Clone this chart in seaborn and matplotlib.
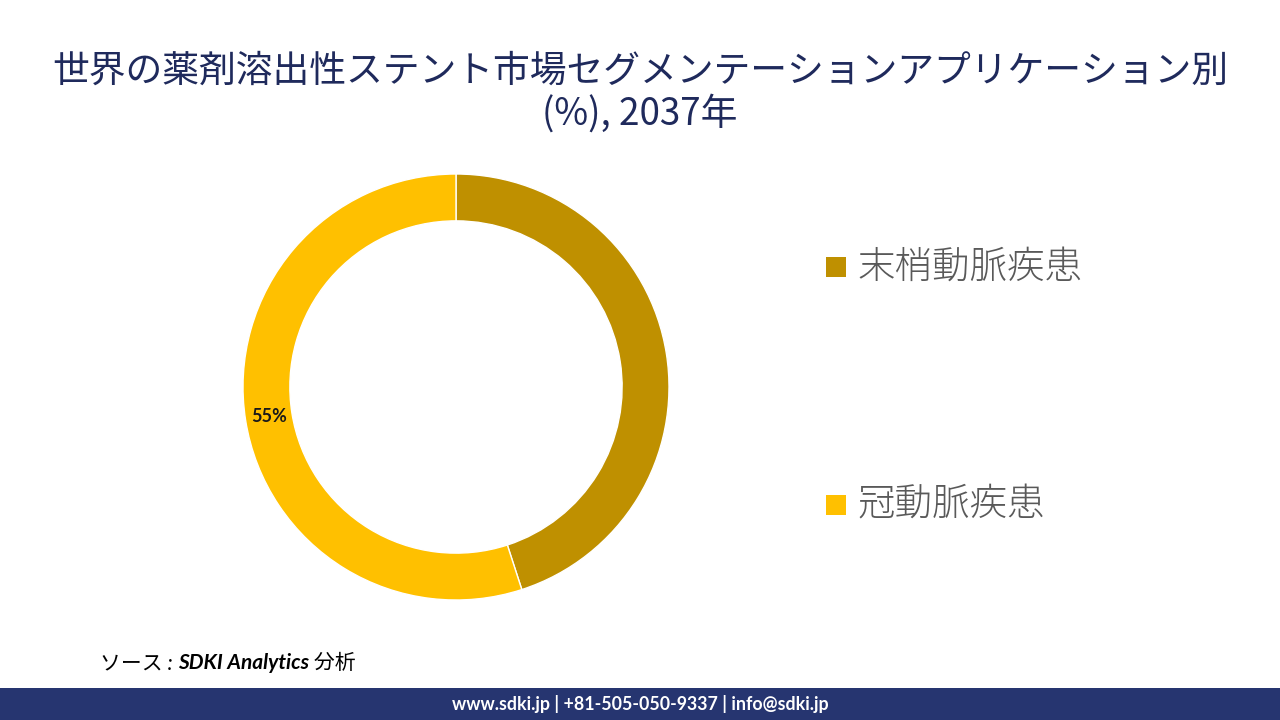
import matplotlib
matplotlib.use("Agg")
import matplotlib.pyplot as plt
import seaborn as sns
import numpy as np
from matplotlib.patches import Rectangle

sns.set_theme(style="white")
plt.rcParams['font.family'] = ['Noto Sans CJK JP', 'DejaVu Sans']

categories = ["末梢動脈疾患", "冠動脈疾患"]
values = [45, 55]
shown_labels = ["", "55%"]
colors = ["#BF9000", "#FFC000"]

title = "世界の薬剤溶出性ステント市場セグメンテーションアプリケーション別\n(%), 2037年"
source_parts = [("ソース : ", "normal"), ("SDKI Analytics", "bold"), (" 分析", "normal")]
footer = "www.sdki.jp | +81-505-050-9337 | info@sdki.jp"

fig = plt.figure(figsize=(12.8, 7.2), dpi=100)
fig.patch.set_facecolor("white")

ax = fig.add_axes([(456 - 213) / 1280, (720 - 600) / 720, 426 / 1280, 426 / 720])
wedges, _ = ax.pie(values, colors=colors, startangle=90, counterclock=False,
                   radius=1.0, wedgeprops=dict(width=0.22, edgecolor="white", linewidth=1))
for w, lab in zip(wedges, shown_labels):
    if lab:
        ang = np.deg2rad((w.theta1 + w.theta2) / 2)
        r = 0.89
        ax.text(r * np.cos(ang), r * np.sin(ang), lab, ha="center", va="center",
                fontsize=13, fontweight="bold", color="#1a1a1a",
                family=['Lato', 'DejaVu Sans'])
ax.set_aspect("equal")
ax.set_xlim(-1, 1)
ax.set_ylim(-1, 1)
ax.axis("off")

# title
fig.text(0.5, 1 - 93 / 720, title, ha="center", va="center", fontsize=26.5,
         color="#1F2A5C", linespacing=1.12)

# legend
leg_y = [267, 505]
for cat, col, y in zip(categories, colors, leg_y):
    fig.patches.append(Rectangle((826 / 1280, 1 - (y + 10) / 720), 20 / 1280, 20 / 720,
                                 transform=fig.transFigure, facecolor=col, edgecolor="none"))
    fig.text(857 / 1280, 1 - y / 720, cat, ha="left", va="center", fontsize=27,
             color="#595959", fontweight="light")

# source
fig.canvas.draw()
renderer = fig.canvas.get_renderer()
x = 100 / 1280
for txt, wt in source_parts:
    t = fig.text(x, 1 - 663 / 720, txt, ha="left", va="center", fontsize=15,
                 style="italic", fontweight=wt, color="black",
                 family=['Lato', 'Noto Sans CJK JP'])
    bb = t.get_window_extent(renderer=renderer)
    x += bb.width / 1280

# footer bar
fig.patches.append(Rectangle((0, 0), 1, 32 / 720, transform=fig.transFigure,
                             facecolor="#263570", edgecolor="none"))
fig.text(0.5, 16 / 720, footer, ha="center", va="center", fontsize=12.8,
         fontweight="bold", color="white", family=['Lato', 'DejaVu Sans'])

fig.savefig("out.png", dpi=100, facecolor="white")
